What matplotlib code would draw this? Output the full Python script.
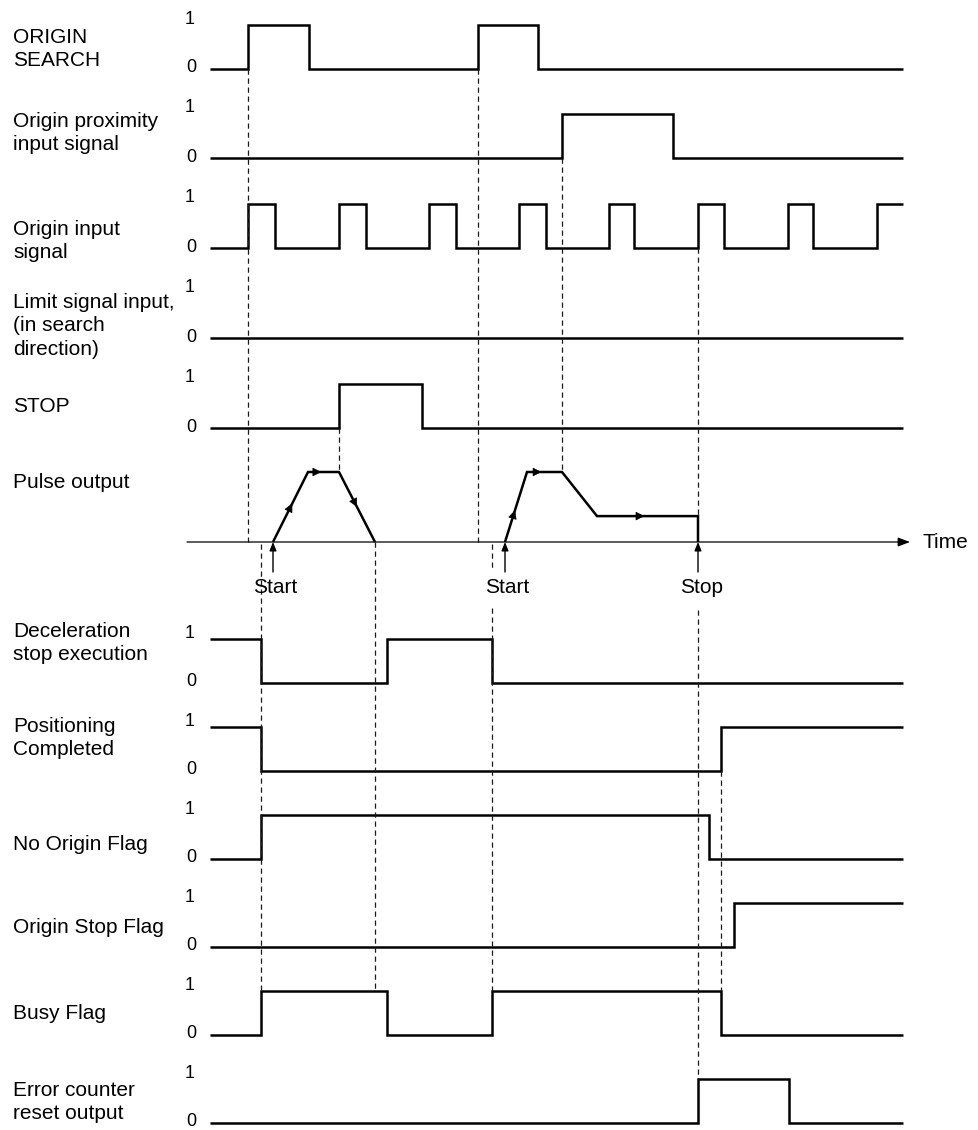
import matplotlib

matplotlib.use('Agg')
import matplotlib.pyplot as plt
import numpy as np

plt.rcParams['font.family'] = ['Liberation Sans', 'DejaVu Sans']

# время на диаграмме (условные единицы по горизонтали)
t_begin, t_end = 210, 903

signal_names = [
    "ORIGIN\nSEARCH",
    "Origin proximity\ninput signal",
    "Origin input\nsignal",
    "Limit signal input,\n(in search\ndirection)",
    "STOP",
    "Deceleration\nstop execution",
    "Positioning\nCompleted",
    "No Origin Flag",
    "Origin Stop Flag",
    "Busy Flag",
    "Error counter\nreset output",
]
initial_levels = [0, 0, 0, 0, 0, 1, 1, 0, 0, 0, 0]
toggle_times = [
    [248, 309, 478, 538],
    [562, 673],
    [248, 275, 339, 366, 429, 456, 519, 546, 609, 634, 698, 724, 788, 813, 877],
    [],
    [339, 422],
    [261, 387, 492],
    [261, 721],
    [261, 709],
    [734],
    [261, 387, 492, 721],
    [698, 789],
]

# выход импульсов: профиль скорости двух перемещений (1 = полная скорость)
move1_times = [273, 308, 339, 375]
move1_speed = [0, 1, 1, 0]
move2_times = [505, 527, 562, 597, 698, 698]
move2_speed = [0, 1, 1, 0.37, 0.37, 0]
start_times = [273, 505]
stop_times = [698]

# --- раскладка (пиксели) ---
row_low = [69, 158, 248, 338, 428, 683, 771, 859, 947, 1035, 1123]
amp = 44
label_baseline = [43, 127, 235, 308, 412, 637, 732, 850, 933, 1019, 1096]
line_step = 23.3
pulse_base, pulse_height = 542, 70

fig = plt.figure(figsize=(9.79, 11.30), dpi=100)
ax = fig.add_axes([0, 0, 1, 1])
ax.set_xlim(0, 979)
ax.set_ylim(1130, 0)
ax.axis('off')

LW = 1.8
FS = 15


def sig_y(row, level):
    return row_low[row] - amp * level


def pulse_y(speed):
    return pulse_base - pulse_height * speed


def put_label(text, y0):
    for i, line in enumerate(text.split('\n')):
        ax.text(13, y0 + i * line_step, line, fontsize=FS, va='baseline', ha='left')


# цифровые сигналы
for row, (name, lv0, toggles) in enumerate(zip(signal_names, initial_levels, toggle_times)):
    xs, lv = [t_begin], lv0
    ys = [lv]
    for t in toggles:
        xs += [t, t]
        ys += [lv, 1 - lv]
        lv = 1 - lv
    xs.append(t_end)
    ys.append(lv)
    ax.plot(xs, [sig_y(row, v) for v in ys], color='black', lw=LW,
            solid_joinstyle='miter', solid_capstyle='butt')
    put_label(name, label_baseline[row])
    ax.text(190, sig_y(row, 1) - 6, "1", fontsize=13, ha='center', va='center')
    ax.text(191, sig_y(row, 0) - 1, "0", fontsize=13, ha='center', va='center')

# ось времени
ax.annotate('', xy=(910, pulse_base), xytext=(187, pulse_base),
            arrowprops=dict(arrowstyle='-|>,head_length=0.4,head_width=0.15',
                            mutation_scale=18, lw=0.9, color='black',
                            shrinkA=0, shrinkB=0))
ax.text(923, pulse_base, "Time", fontsize=FS, va='center', ha='left')
put_label("Pulse output", 488)

# профиль выхода импульсов
for times, speed in [(move1_times, move1_speed), (move2_times, move2_speed)]:
    ax.plot(times, [pulse_y(s) for s in speed], color='black', lw=LW,
            solid_joinstyle='miter', solid_capstyle='butt')

# стрелки направления на профиле: (время, скорость, сегмент, доля)
flow_marks = [
    (move1_times, move1_speed, 0, 0.5),
    (move1_times, move1_speed, 1, 0.3),
    (move1_times, move1_speed, 2, 0.45),
    (move2_times, move2_speed, 0, 0.4),
    (move2_times, move2_speed, 1, 0.3),
    (move2_times, move2_speed, 3, 0.43),
]
for times, speed, seg, frac in flow_marks:
    x0, x1 = times[seg], times[seg + 1]
    y0, y1 = pulse_y(speed[seg]), pulse_y(speed[seg + 1])
    d = np.array([x1 - x0, y1 - y0], dtype=float)
    d /= np.hypot(*d)
    p = np.array([x0 + frac * (x1 - x0), y0 + frac * (y1 - y0)])
    ax.annotate('', xy=tuple(p + d * 4), xytext=tuple(p - d * 0.5),
                arrowprops=dict(arrowstyle='-|>,head_length=0.5,head_width=0.25',
                                mutation_scale=11, lw=0.5, color='black',
                                shrinkA=0, shrinkB=0))

for t in start_times:
    ax.annotate('', xy=(t, pulse_base), xytext=(t, pulse_base + 30),
                arrowprops=dict(arrowstyle='-|>,head_length=0.42,head_width=0.17',
                                mutation_scale=12, lw=1.0, color='black',
                                shrinkA=0, shrinkB=0))
    ax.text(t + 2, 593, "Start", fontsize=FS, ha='center', va='baseline')
for t in stop_times:
    ax.annotate('', xy=(t, pulse_base), xytext=(t, pulse_base + 30),
                arrowprops=dict(arrowstyle='-|>,head_length=0.42,head_width=0.17',
                                mutation_scale=12, lw=1.0, color='black',
                                shrinkA=0, shrinkB=0))
    ax.text(t + 4, 593, "Stop", fontsize=FS, ha='center', va='baseline')

# пунктирные линии привязки событий
guides = [
    (248, sig_y(0, 0), pulse_base),
    (478, sig_y(0, 0), pulse_base),
    (339, sig_y(4, 0), pulse_y(1)),
    (562, sig_y(1, 0), pulse_y(1)),
    (698, sig_y(2, 0), pulse_y(0.37)),
    (698, pulse_base + 68, sig_y(10, 1)),
    (261, pulse_base + 2, sig_y(9, 1)),
    (375, pulse_base, sig_y(9, 1)),
    (492, pulse_base + 2, pulse_base + 26),
    (492, pulse_base + 66, sig_y(9, 1)),
    (721, sig_y(6, 0), sig_y(9, 1)),
]
for x, ya, yb in guides:
    ax.plot([x, x], [ya, yb], color='#1a1a1a', lw=0.9, linestyle=(0, (4.2, 3.0)))

fig.savefig('out.png', dpi=100)
